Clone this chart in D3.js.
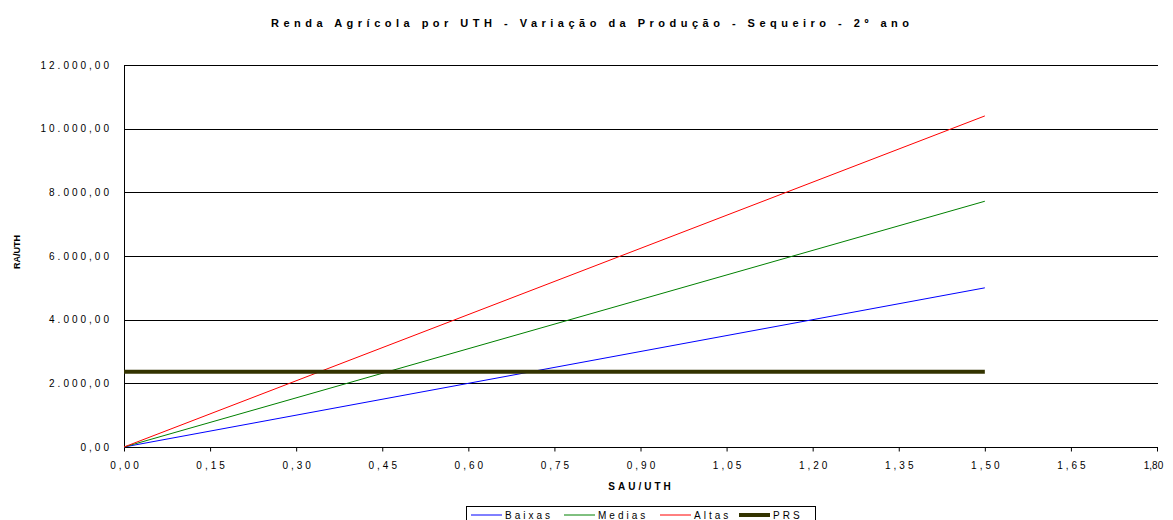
<!DOCTYPE html>
<html><head><meta charset="utf-8">
<script src="https://cdn.jsdelivr.net/npm/d3@7"></script>
<style>
html,body{margin:0;padding:0;background:#fff;}
text{font-family:"Liberation Sans",Arial,sans-serif;fill:#000;}
</style></head>
<body><svg id="c" width="1173" height="520"></svg>
<script>
const title = "Renda Agrícola por UTH - Variação da Produção - Sequeiro - 2º ano";
const xTitle = "SAU/UTH";
const yTitle = "RA/UTH";
const xValues = [0, 1.5];
const baixas = [0, 5000];
const medias = [0, 7720];
const altas = [0, 10400];
const prs = [2365, 2365];
const xTicks = [0,0.15,0.30,0.45,0.60,0.75,0.90,1.05,1.20,1.35,1.50,1.65,1.80];
const yTicks = [0,2000,4000,6000,8000,10000,12000];
const seriesNames = ["Baixas","Medias","Altas","PRS"];
const seriesColors = ["#0000ff","#008000","#ff0000","#333300"];
const seriesWidths = [1,1,1,4];
const seriesData = [baixas, medias, altas, prs];

const svg = d3.select("#c");
const L = 124, R = 1157, T = 65, B = 447;
const x = d3.scaleLinear().domain([0,1.8]).range([L,R]);
const y = d3.scaleLinear().domain([0,12000]).range([B,T]);

const fmtY = v => d3.format(",.2f")(v).replace(/,/g,"#").replace(/\./g,",").replace(/#/g,".");
const fmtX = v => d3.format(".2f")(v).replace(".",",");

// gridlines
svg.append("g").selectAll("line").data(yTicks.filter(d=>d>0)).join("line")
  .attr("x1",L).attr("x2",R+1).attr("y1",d=>Math.round(y(d))+0.5).attr("y2",d=>Math.round(y(d))+0.5)
  .attr("stroke","#000").attr("stroke-width",1);

// y labels
svg.append("g").selectAll("text").data(yTicks).join("text")
  .attr("x",112).attr("y",d=>y(d)+3.5).attr("text-anchor","end")
  .attr("font-size",10).attr("letter-spacing",3).text(fmtY);

// x axis
const xa = svg.append("g").attr("transform",`translate(0,${Math.round(B)+0.5})`)
  .call(d3.axisBottom(x).tickValues(xTicks).tickFormat(fmtX).tickSize(4).tickPadding(10));
xa.select(".domain").attr("stroke","#000").attr("d",`M${L},0H${R+1}`);
xa.selectAll(".tick line").attr("stroke","#000");
xa.selectAll("text").attr("font-size",10).attr("letter-spacing",3).attr("dx",1.5)
  .attr("font-family","Liberation Sans, Arial, sans-serif").attr("fill","#000");
// last label squeezed to fit at the edge, as in the reference
xa.selectAll(".tick").filter(d=>d===1.8).select("text")
  .attr("letter-spacing",0).attr("dx",-4);

// y axis line
svg.append("line").attr("x1",L+0.5).attr("x2",L+0.5).attr("y1",T).attr("y2",B+1)
  .attr("stroke","#000");

// series
const line = d3.line().x((d,i)=>x(xValues[i])).y(d=>y(d));
seriesData.forEach((s,k)=>{
  svg.append("path").datum(s).attr("d",line).attr("fill","none")
    .attr("stroke",seriesColors[k]).attr("stroke-width",seriesWidths[k]);
});

// titles
const tt = svg.append("text").attr("x",271).attr("y",27)
  .attr("font-size",11).attr("font-weight","bold").text(title);
{
  const nat = tt.node().getComputedTextLength();
  const ls = (638 - nat) / (title.length - 1);
  tt.attr("letter-spacing", ls);
}
svg.append("text").attr("x",641).attr("y",490).attr("text-anchor","middle")
  .attr("font-size",10).attr("font-weight","bold").attr("letter-spacing",3).text(xTitle);
svg.append("text").attr("transform","translate(20,252) rotate(-90)").attr("text-anchor","middle")
  .attr("font-size",9).attr("font-weight","bold").text(yTitle);

// legend
const lg = svg.append("g");
lg.append("rect").attr("x",466.5).attr("y",506.5).attr("width",349).attr("height",20)
  .attr("fill","#fff").attr("stroke","#000");
const legX = [471,564,660,739];
seriesNames.forEach((n,k)=>{
  lg.append("line").attr("x1",legX[k]).attr("x2",legX[k]+31).attr("y1",515).attr("y2",515)
    .attr("stroke",seriesColors[k]).attr("stroke-width",seriesWidths[k]);
  lg.append("text").attr("x",legX[k]+34).attr("y",519).attr("font-size",10)
    .attr("letter-spacing",3).text(n);
});
</script></body></html>
